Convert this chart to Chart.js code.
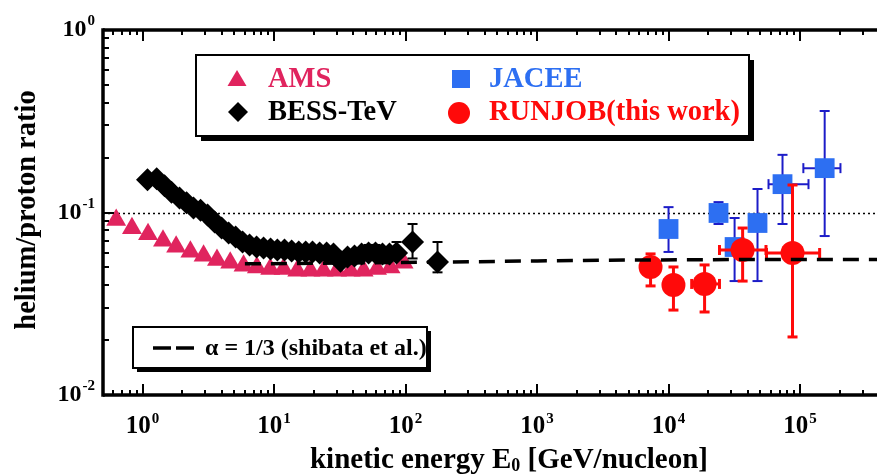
<!DOCTYPE html>
<html>
<head>
<meta charset="utf-8">
<script src="https://cdn.jsdelivr.net/npm/chart.js@4/dist/chart.umd.min.js"></script>
<style>
  html, body { margin: 0; padding: 0; background: #fff; }
  #wrap { width: 877px; height: 475px; position: relative; }
</style>
</head>
<body>
<div id="wrap"><canvas id="ratioChart"></canvas></div>
<script>
// AMS (pink triangles)
const amsE = [0.63, 0.83, 1.10, 1.43, 1.80, 2.31, 2.91, 3.68, 4.64, 5.86, 7.40, 9.35,
  11.8, 15.0, 18.9, 23.8, 30.1, 38.2, 48.0, 60.7, 76.9, 96.6];
const amsRatio = [0.091, 0.082, 0.076, 0.070, 0.065, 0.061, 0.058, 0.055, 0.053, 0.051, 0.050, 0.049,
  0.049, 0.048, 0.048, 0.048, 0.048, 0.048, 0.048, 0.049, 0.050, 0.053];

// BESS-TeV (black diamonds)
const bessE = [1.09, 1.28, 1.47, 1.66, 1.91, 2.16, 2.44, 2.76, 3.12, 3.53, 3.99, 4.51, 5.10, 5.76,
  6.51, 7.36, 8.32, 9.40, 10.6, 12.0, 13.6, 15.4, 17.4, 19.6, 22.2, 25.1, 28.3, 32.0, 36.2, 40.9,
  46.3, 52.3, 59.1, 66.8, 75.5, 85.4, 113, 175];
const bessRatio = [0.151, 0.153, 0.140, 0.129, 0.120, 0.113, 0.106, 0.103, 0.097, 0.0887, 0.0822,
  0.0772, 0.0734, 0.0689, 0.0664, 0.0647, 0.0639, 0.0631, 0.0623, 0.0623, 0.0615, 0.0608, 0.0608,
  0.0608, 0.0600, 0.0600, 0.0593, 0.0540, 0.0570, 0.0578, 0.0593, 0.0600, 0.0600, 0.0593, 0.0593,
  0.0600, 0.0689, 0.0535];
const bessHi = [null, null, null, null, null, null, null, null, null, null, null, null, null, null,
  null, null, null, null, null, null, null, null, null, null, null, null, null, null, null, null,
  null, 0.0664, 0.0664, null, null, 0.0689, 0.0865, 0.0689];
const bessLo = [null, null, null, null, null, null, null, null, null, null, null, null, null, null,
  null, null, null, null, null, null, null, null, null, null, null, null, null, null, null, null,
  null, null, null, null, null, null, 0.056, 0.047];

// JACEE (blue squares)
const jaceeE = [1.0e4, 2.40e4, 3.18e4, 4.75e4, 7.36e4, 1.54e5];
const jaceeRatio = [0.0812, 0.0994, 0.0647, 0.0876, 0.143, 0.175];
const jaceeHi = [0.107, 0.114, 0.0933, 0.1345, 0.207, 0.360];
const jaceeLo = [0.0608, 0.0865, 0.0421, 0.0421, 0.0865, 0.0743];
const jaceeELo = [null, null, null, null, 5.76e4, 1.06e5];
const jaceeEHi = [null, null, null, null, 1.16e5, 2.03e5];

// RUNJOB (red circles)
const runjobE = [7.30e3, 1.09e4, 1.88e4, 3.66e4, 8.77e4];
const runjobRatio = [0.0503, 0.0401, 0.0406, 0.0623, 0.0600];
const runjobHi = [0.0593, 0.0503, 0.0516, 0.0822, 0.1415];
const runjobLo = [0.0396, 0.0292, 0.0285, 0.0421, 0.0208];
const runjobELo = [null, null, 1.5e4, 2.44e4, 5.56e4];
const runjobEHi = [null, null, 2.44e4, 5.51e4, 1.41e5];

// alpha = 1/3 (Shibata et al.)
const shibataE = [6, 30, 200, 1000, 5000, 3e4, 3.85e5];
const shibataRatio = [0.0523, 0.0528, 0.0535, 0.0543, 0.0549, 0.0552, 0.0553];

// axes
const xMin = 0.5, xMax = 3.85e5;
const yMin = 0.01, yMax = 1;
const xTickValues = [1, 10, 100, 1000, 10000, 100000];
const xTickExps = ['0', '1', '2', '3', '4', '5'];
const yTickValues = [0.01, 0.1, 1];
const yTickExps = ['-2', '-1', '0'];
const dottedLevel = 0.1;

const serif = '"Liberation Serif", "Times New Roman", serif';
const amsColor = '#e0245e';
const jaceeColor = '#2d6ff2';
const jaceeBarColor = '#1c1cc8';
const runjobColor = '#ff0a0a';

const pts = (xs, ys) => xs.map((x, i) => ({ x: x, y: ys[i] }));

const errorBars = {
  'BESS-TeV': { hi: bessHi, lo: bessLo, color: '#000', cap: 5, width: 2 },
  JACEE: { hi: jaceeHi, lo: jaceeLo, eLo: jaceeELo, eHi: jaceeEHi, color: jaceeBarColor, cap: 5, width: 2 },
  RUNJOB: { hi: runjobHi, lo: runjobLo, eLo: runjobELo, eHi: runjobEHi, color: runjobColor, cap: 5, width: 3 }
};

function line(ctx, x1, y1, x2, y2) {
  ctx.beginPath(); ctx.moveTo(x1, y1); ctx.lineTo(x2, y2); ctx.stroke();
}

function drawPower(ctx, x, baseline, exp, size, supSize, supRise, align) {
  ctx.font = 'bold ' + size + 'px ' + serif;
  const wBase = ctx.measureText('10').width;
  ctx.font = 'bold ' + supSize + 'px ' + serif;
  const wExp = ctx.measureText(exp).width;
  const total = wBase + 1 + wExp;
  const left = align === 'center' ? x - total / 2 : x - total;
  ctx.textAlign = 'left';
  ctx.textBaseline = 'alphabetic';
  ctx.font = 'bold ' + size + 'px ' + serif;
  ctx.fillText('10', left, baseline);
  ctx.font = 'bold ' + supSize + 'px ' + serif;
  ctx.fillText(exp, left + wBase + 1, baseline - supRise);
}

function shadowBox(ctx, x, y, w, h, off) {
  ctx.fillStyle = '#000';
  ctx.fillRect(x + off, y + off, w, h);
  ctx.fillStyle = '#fff';
  ctx.fillRect(x, y, w, h);
  ctx.strokeStyle = '#000';
  ctx.lineWidth = 2;
  ctx.strokeRect(x, y, w, h);
}

const plotDecor = {
  id: 'plotDecor',
  beforeDatasetsDraw(chart) {
    const { ctx, chartArea: a, scales: { y } } = chart;
    const py = Math.round(y.getPixelForValue(dottedLevel)) + 0.5;
    ctx.save();
    ctx.strokeStyle = '#000';
    ctx.lineWidth = 1.3;
    ctx.setLineDash([2, 3]);
    line(ctx, a.left, py, a.right, py);
    ctx.restore();
  },
  beforeDatasetDraw(chart, args) {
    const ds = chart.data.datasets[args.index];
    const eb = errorBars[ds.label];
    if (!eb) return;
    const { ctx, scales: { x, y } } = chart;
    ctx.save();
    ctx.strokeStyle = eb.color;
    ctx.lineWidth = eb.width;
    ds.data.forEach((p, i) => {
      const px = x.getPixelForValue(p.x);
      const py = y.getPixelForValue(p.y);
      const hi = eb.hi[i], lo = eb.lo[i];
      if (hi != null || lo != null) {
        const top = y.getPixelForValue(hi != null ? hi : p.y);
        const bot = y.getPixelForValue(lo != null ? lo : p.y);
        line(ctx, px, top, px, bot);
        if (hi != null) line(ctx, px - eb.cap, top, px + eb.cap, top);
        if (lo != null) line(ctx, px - eb.cap, bot, px + eb.cap, bot);
      }
      if (eb.eLo && eb.eLo[i] != null) {
        const l = x.getPixelForValue(eb.eLo[i]);
        const r = x.getPixelForValue(eb.eHi[i]);
        line(ctx, l, py, r, py);
        line(ctx, l, py - eb.cap, l, py + eb.cap);
        line(ctx, r, py - eb.cap, r, py + eb.cap);
      }
    });
    ctx.restore();
  },
  afterDraw(chart) {
    const { ctx, chartArea: a, scales: { x, y } } = chart;
    ctx.save();
    ctx.setLineDash([]);
    // frame
    ctx.strokeStyle = '#000';
    ctx.lineWidth = 3.5;
    line(ctx, a.left, a.top, a.right, a.top);
    line(ctx, a.left, a.bottom, a.right, a.bottom);
    line(ctx, a.left, a.top - 1.7, a.left, a.bottom + 1.7);
    // ticks (inward, top and bottom mirrored)
    ctx.lineWidth = 2;
    for (let d = -1; d <= 5; d++) {
      for (let m = 1; m <= 9; m++) {
        const v = m * Math.pow(10, d);
        if (v <= xMin || v >= xMax) continue;
        const px = Math.round(x.getPixelForValue(v));
        const len = m === 1 ? 11 : 5;
        line(ctx, px, a.bottom, px, a.bottom - len);
        line(ctx, px, a.top, px, a.top + len);
      }
    }
    for (let d = -2; d <= -1; d++) {
      for (let m = 1; m <= 9; m++) {
        const v = m * Math.pow(10, d);
        if (v <= yMin || v >= yMax) continue;
        const py = Math.round(y.getPixelForValue(v));
        line(ctx, a.left, py, a.left + (m === 1 ? 11 : 6), py);
      }
    }
    // tick labels
    ctx.fillStyle = '#000';
    xTickValues.forEach((v, i) => {
      drawPower(ctx, x.getPixelForValue(v), 433, xTickExps[i], 25, 15, 10, 'center');
    });
    yTickValues.forEach((v, i) => {
      drawPower(ctx, 95, y.getPixelForValue(v) + 6, yTickExps[i], 24, 15, 11, 'right');
    });
    // axis titles
    const tf = 'bold 29px ' + serif, sf = 'bold 18px ' + serif;
    ctx.font = tf;
    const t1 = 'kinetic energy E', t2 = '0', t3 = ' [GeV/nucleon]';
    const w1 = ctx.measureText(t1).width, w3 = ctx.measureText(t3).width;
    ctx.font = sf;
    const w2 = ctx.measureText(t2).width;
    const tx = 509 - (w1 + w2 + w3) / 2;
    ctx.textAlign = 'left';
    ctx.textBaseline = 'alphabetic';
    ctx.font = tf;
    ctx.fillText(t1, tx, 468);
    ctx.font = sf;
    ctx.fillText(t2, tx + w1, 471);
    ctx.font = tf;
    ctx.fillText(t3, tx + w1 + w2, 468);

    ctx.save();
    ctx.translate(28, 210);
    ctx.rotate(-Math.PI / 2);
    ctx.textAlign = 'center';
    ctx.textBaseline = 'middle';
    ctx.font = 'bold 28.5px ' + serif;
    ctx.fillText('helium/proton ratio', 0, 0);
    ctx.restore();

    // legend boxes
    shadowBox(ctx, 196, 55, 553, 81, 5);
    ctx.fillStyle = amsColor;
    ctx.beginPath();
    ctx.moveTo(237, 70); ctx.lineTo(246.5, 86); ctx.lineTo(227.5, 86); ctx.closePath(); ctx.fill();
    ctx.fillStyle = '#000';
    ctx.beginPath();
    ctx.moveTo(238, 102); ctx.lineTo(248, 112); ctx.lineTo(238, 122); ctx.lineTo(228, 112); ctx.closePath(); ctx.fill();
    ctx.fillStyle = jaceeColor;
    ctx.fillRect(452, 70, 18, 18);
    ctx.fillStyle = runjobColor;
    ctx.beginPath(); ctx.arc(459, 113, 11, 0, Math.PI * 2); ctx.fill();

    ctx.font = 'bold 28.5px ' + serif;
    ctx.textAlign = 'left';
    ctx.textBaseline = 'middle';
    ctx.fillStyle = amsColor; ctx.fillText('AMS', 268, 80);
    ctx.fillStyle = '#000'; ctx.fillText('BESS-TeV', 268, 113);
    ctx.fillStyle = jaceeColor; ctx.fillText('JACEE', 489, 80);
    ctx.fillStyle = runjobColor; ctx.fillText('RUNJOB(this work)', 489, 113);

    shadowBox(ctx, 133, 327, 294, 41, 4);
    ctx.strokeStyle = '#000';
    ctx.lineWidth = 3.5;
    line(ctx, 153, 348, 171, 348);
    line(ctx, 176, 348, 194, 348);
    ctx.fillStyle = '#000';
    ctx.font = 'bold 24px ' + serif;
    ctx.fillText('\u03b1 = 1/3 (shibata et al.)', 205, 349);
    ctx.restore();
  }
};

new Chart(document.getElementById('ratioChart'), {
  type: 'scatter',
  data: {
    datasets: [
      {
        label: 'BESS-TeV', data: pts(bessE, bessRatio), order: 1,
        pointStyle: 'rectRot', pointRadius: 11.5, backgroundColor: '#000', borderColor: '#000', borderWidth: 0
      },
      {
        label: 'shibata', type: 'line', data: pts(shibataE, shibataRatio), order: 2,
        showLine: true, pointRadius: 0, borderColor: '#000', borderWidth: 3.5,
        borderDash: [16, 10], fill: false, tension: 0
      },
      {
        label: 'AMS', data: pts(amsE, amsRatio), order: 3,
        pointStyle: 'triangle', pointRadius: 11.5, backgroundColor: amsColor, borderColor: amsColor, borderWidth: 0
      },
      {
        label: 'RUNJOB', data: pts(runjobE, runjobRatio), order: 4,
        pointStyle: 'circle', pointRadius: 12, backgroundColor: runjobColor, borderColor: runjobColor, borderWidth: 0
      },
      {
        label: 'JACEE', data: pts(jaceeE, jaceeRatio), order: 5,
        pointStyle: 'rect', pointRadius: 14, backgroundColor: jaceeColor, borderColor: jaceeColor, borderWidth: 0
      }
    ]
  },
  options: {
    responsive: true,
    maintainAspectRatio: false,
    animation: false,
    events: [],
    layout: { autoPadding: false, padding: { left: 103, top: 30, right: 0, bottom: 80 } },
    scales: {
      x: { type: 'logarithmic', min: xMin, max: xMax, display: false },
      y: { type: 'logarithmic', min: yMin, max: yMax, display: false }
    },
    plugins: {
      legend: { display: false },
      tooltip: { enabled: false }
    }
  },
  plugins: [plotDecor]
});
</script>
</body>
</html>
